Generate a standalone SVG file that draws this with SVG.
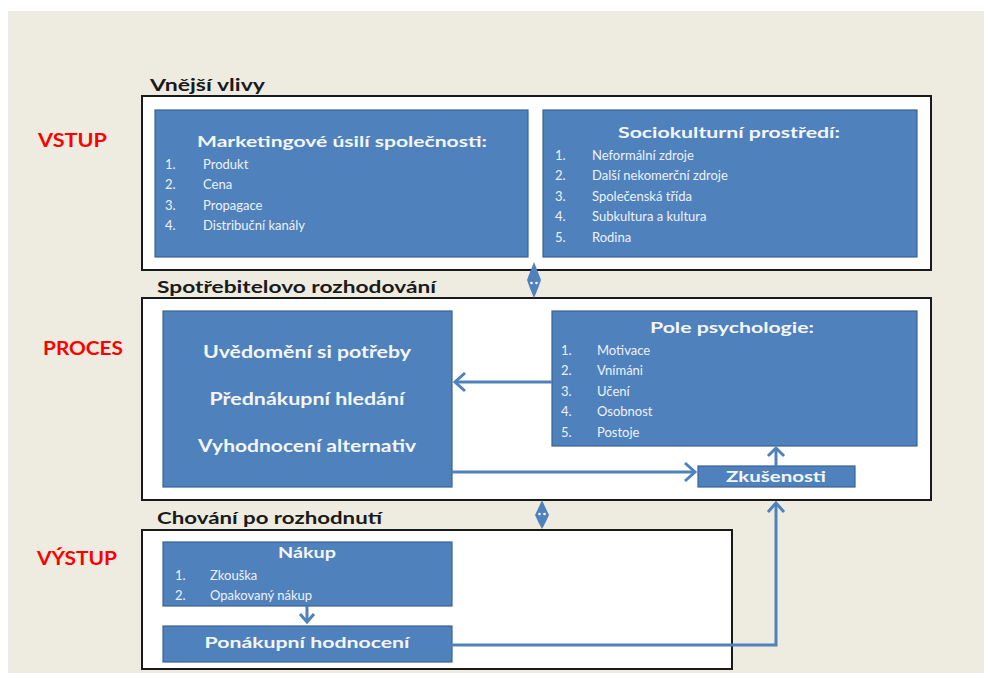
<svg xmlns="http://www.w3.org/2000/svg" width="984" height="673" viewBox="0 0 984 673">
<style>
.frame{fill:#fff;stroke:#1a1a1a;stroke-width:2}
.node{fill:#4F81BD;stroke:#3A6393;stroke-width:1.2}
.hdr{font-family:Lato,"Liberation Sans",sans-serif;font-weight:bold;font-size:17px;fill:#1a1a1a}
.side{font-family:Lato,"Liberation Sans",sans-serif;font-weight:bold;font-size:19px;fill:#FF0000}
.t{font-family:Lato,"Liberation Sans",sans-serif;font-weight:bold;fill:#F4F6FA}
.ti{font-size:16px}
.big{font-size:16.5px}
.it{font-family:Lato,"Liberation Sans",sans-serif;font-size:13px;fill:#EEF2F8}
.c{fill:none;stroke:#4F81BD;stroke-width:3}
.ah{fill:none;stroke:#4F81BD;stroke-width:3;stroke-linejoin:miter}
.dia{fill:#4F81BD}
.dot{fill:#fff}
</style>
<rect x="8" y="11" width="976" height="662" fill="#EEECE1"/>
<text class="side" x="38" y="147" textLength="69" lengthAdjust="spacingAndGlyphs">VSTUP</text>
<text class="side" x="43" y="355" textLength="80" lengthAdjust="spacingAndGlyphs">PROCES</text>
<text class="side" x="37" y="565" textLength="80" lengthAdjust="spacingAndGlyphs">VÝSTUP</text>
<g id="group-external">
<text class="hdr" x="150" y="91" textLength="115" lengthAdjust="spacingAndGlyphs">Vnější vlivy</text>
<rect class="frame" x="142" y="96" width="789" height="174"/>
</g>
<g id="group-process">
<text class="hdr" x="157" y="293" textLength="279" lengthAdjust="spacingAndGlyphs">Spotřebitelovo rozhodování</text>
<rect class="frame" x="142" y="298" width="789" height="202"/>
</g>
<g id="group-output">
<text class="hdr" x="157" y="524" textLength="225" lengthAdjust="spacingAndGlyphs">Chování po rozhodnutí</text>
<rect class="frame" x="142" y="530" width="590" height="139"/>
</g>
<g id="marketing">
<rect class="node" x="155" y="110" width="373" height="147"/>
<text class="t ti" x="342" y="147" text-anchor="middle" textLength="290" lengthAdjust="spacingAndGlyphs">Marketingové úsilí společnosti:</text>
<text class="it" x="165" y="169">1.</text><text class="it" x="203" y="169">Produkt</text>
<text class="it" x="165" y="189">2.</text><text class="it" x="203" y="189">Cena</text>
<text class="it" x="165" y="210">3.</text><text class="it" x="203" y="210">Propagace</text>
<text class="it" x="165" y="230">4.</text><text class="it" x="203" y="230">Distribuční kanály</text>
</g>
<g id="socio">
<rect class="node" x="543" y="110" width="374" height="147"/>
<text class="t ti" x="729" y="138" text-anchor="middle" textLength="222" lengthAdjust="spacingAndGlyphs">Sociokulturní prostředí:</text>
<text class="it" x="555" y="160">1.</text><text class="it" x="592" y="160">Neformální zdroje</text>
<text class="it" x="555" y="180">2.</text><text class="it" x="592" y="180">Další nekomerční zdroje</text>
<text class="it" x="555" y="201">3.</text><text class="it" x="592" y="201">Společenská třída</text>
<text class="it" x="555" y="221">4.</text><text class="it" x="592" y="221">Subkultura a kultura</text>
<text class="it" x="555" y="242">5.</text><text class="it" x="592" y="242">Rodina</text>
</g>
<g id="decision">
<rect class="node" x="163" y="311" width="289" height="176"/>
<text class="t big" x="307" y="358" text-anchor="middle" textLength="208" lengthAdjust="spacingAndGlyphs">Uvědomění si potřeby</text>
<text class="t big" x="307" y="405" text-anchor="middle" textLength="195" lengthAdjust="spacingAndGlyphs">Přednákupní hledání</text>
<text class="t big" x="307" y="452" text-anchor="middle" textLength="218" lengthAdjust="spacingAndGlyphs">Vyhodnocení alternativ</text>
</g>
<g id="psych">
<rect class="node" x="552" y="311" width="365" height="135"/>
<text class="t ti" x="732" y="333" text-anchor="middle" textLength="164" lengthAdjust="spacingAndGlyphs">Pole psychologie:</text>
<text class="it" x="561" y="355">1.</text><text class="it" x="597" y="355">Motivace</text>
<text class="it" x="561" y="375">2.</text><text class="it" x="597" y="375">Vnímáni</text>
<text class="it" x="561" y="396">3.</text><text class="it" x="597" y="396">Učení</text>
<text class="it" x="561" y="416">4.</text><text class="it" x="597" y="416">Osobnost</text>
<text class="it" x="561" y="437">5.</text><text class="it" x="597" y="437">Postoje</text>
</g>
<g id="experience">
<rect class="node" x="698" y="466" width="157" height="21"/>
<text class="t ti" x="776" y="482" text-anchor="middle" textLength="100" lengthAdjust="spacingAndGlyphs">Zkušenosti</text>
</g>
<g id="purchase">
<rect class="node" x="163" y="542" width="289" height="64"/>
<text class="t ti" x="307" y="558" text-anchor="middle" textLength="58" lengthAdjust="spacingAndGlyphs">Nákup</text>
<text class="it" x="175" y="580">1.</text><text class="it" x="210" y="580">Zkouška</text>
<text class="it" x="175" y="600">2.</text><text class="it" x="210" y="600">Opakovaný nákup</text>
</g>
<g id="evaluation">
<rect class="node" x="163" y="626" width="289" height="36"/>
<text class="t ti" x="307" y="648" text-anchor="middle" textLength="205" lengthAdjust="spacingAndGlyphs">Ponákupní hodnocení</text>
</g>
<g id="connectors">
<path class="c" d="M552,382 H455"/>
<path class="ah" d="M465,373 L455,382 L465,391"/>
<path class="c" d="M452,472 H695"/>
<path class="ah" d="M685,463 L695,472 L685,481"/>
<path class="c" d="M776,466 V449"/>
<path class="ah" d="M768,456 L776,448 L784,456"/>
<path class="c" d="M307,606 V622"/>
<path class="ah" d="M300,614 L307,622 L314,614"/>
<path class="c" d="M428,645 H776 V504"/>
<path class="ah" d="M768,512 L776,503 L784,512"/>
<path class="dia" d="M534,262 Q538,272 541,280 Q538,289 534,298 Q530,289 527,280 Q530,272 534,262 Z"/>
<circle class="dot" cx="531.5" cy="283" r="1.3"/><circle class="dot" cx="536.5" cy="283" r="1.3"/>
<path class="dia" d="M542,500 Q546,509 549,515 Q546,522 542,529 Q538,522 535,515 Q538,509 542,500 Z"/>
<circle class="dot" cx="539.5" cy="514" r="1.3"/><circle class="dot" cx="544.5" cy="514" r="1.3"/>
</g>
</svg>
